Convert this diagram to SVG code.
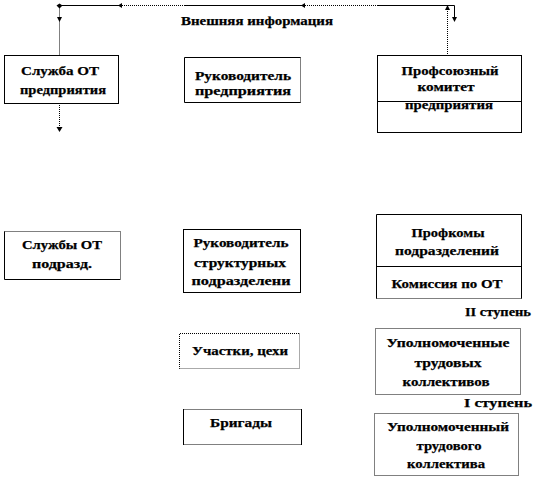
<svg xmlns="http://www.w3.org/2000/svg" width="553" height="478" viewBox="0 0 553 478">
<style>
text{font-family:"Liberation Serif","Times New Roman",serif;font-weight:bold;font-size:13px;fill:#000;text-anchor:middle;stroke:#000;stroke-width:0.25}
.s{fill:none;stroke:#000;stroke-width:1}
.d{fill:none;stroke:#000;stroke-width:1;stroke-dasharray:1 1}
.g{fill:none;stroke:#555;stroke-width:1;stroke-dasharray:1 1}
.a{fill:#000;stroke:none}
</style>
<rect width="553" height="478" fill="#fff"/>
<g id="connectors">
<path class="s" d="M59.5 5.5H120M185 5.5H303M377 5.5H454.5V20"/>
<path class="d" d="M120 5.5H185M303 5.5H377"/>
<path class="d" d="M59.5 5.5V55M59.5 103V128"/>
<path class="d" d="M447.5 9V55"/>
<path class="a" d="M56.5 5.5l3-2 3 2-3 3z"/>
<path class="a" d="M57 17h5l-2.5 5z"/>
<path class="a" d="M56.5 127h6l-3 5z"/>
<path class="a" d="M118 5.5l4-2.5v5z"/>
<path class="a" d="M301 5.5l4-2.5v5z"/>
<path class="a" d="M445 10h5l-2.5-5z"/>
<path class="a" d="M452 17h5l-2.5 5z"/>
</g>
<g id="label-vneshnyaya">
<text x="257" y="25" textLength="152" lengthAdjust="spacingAndGlyphs">Внешняя информация</text>
</g>
<g id="node-sluzhba-ot">
<rect class="s" x="4.5" y="55.5" width="114" height="48"/>
<text x="60" y="75" textLength="78" lengthAdjust="spacingAndGlyphs">Служба ОТ</text>
<text x="63" y="94" textLength="86" lengthAdjust="spacingAndGlyphs">предприятия</text>
</g>
<g id="node-rukovoditel">
<path class="s" d="M300.5 57.5H184.5V102.5H300.5"/>
<path class="d" d="M300.5 57.5V102.5"/>
<text x="243" y="80" textLength="96" lengthAdjust="spacingAndGlyphs">Руководитель</text>
<text x="243" y="95" textLength="96" lengthAdjust="spacingAndGlyphs">предприятия</text>
</g>
<g id="node-profkom">
<rect class="s" x="377.5" y="55.5" width="144" height="77"/>
<path class="s" d="M377.5 101.5H521.5"/>
<text x="450" y="75" textLength="97" lengthAdjust="spacingAndGlyphs">Профсоюзный</text>
<text x="446" y="91" textLength="57" lengthAdjust="spacingAndGlyphs">комитет</text>
<text x="449" y="109" textLength="88" lengthAdjust="spacingAndGlyphs">предприятия</text>
</g>
<g id="node-sluzhby-ot">
<path class="s" d="M4.5 231.5V279.5H120.5"/>
<path class="d" d="M4.5 231.5H120.5V279.5"/>
<text x="62" y="249" textLength="80" lengthAdjust="spacingAndGlyphs">Службы ОТ</text>
<text x="62" y="268" textLength="60" lengthAdjust="spacingAndGlyphs">подразд.</text>
</g>
<g id="node-rukovoditel-struct">
<rect class="s" x="183.5" y="229.5" width="117" height="63"/>
<text x="241" y="247" textLength="95" lengthAdjust="spacingAndGlyphs">Руководитель</text>
<text x="240" y="267" textLength="92" lengthAdjust="spacingAndGlyphs">структурных</text>
<text x="241" y="285" textLength="99" lengthAdjust="spacingAndGlyphs">подразделени</text>
</g>
<g id="node-profkomy">
<path class="s" d="M376.5 298.5V214.5H521.5V298.5"/>
<path class="d" d="M376.5 298.5H521.5"/>
<path class="s" d="M376.5 266.5H521.5"/>
<text x="448" y="237" textLength="73" lengthAdjust="spacingAndGlyphs">Профкомы</text>
<text x="447" y="255" textLength="104" lengthAdjust="spacingAndGlyphs">подразделений</text>
<text x="447" y="288" textLength="111" lengthAdjust="spacingAndGlyphs">Комиссия по ОТ</text>
</g>
<g id="label-ii">
<text x="498" y="316" textLength="66" lengthAdjust="spacingAndGlyphs">II ступень</text>
</g>
<g id="node-uchastki">
<path class="d" d="M179.5 369V333.5H299.5"/>
<path class="g" d="M299.5 333.5V368.5H179.5"/>
<text x="240" y="355" textLength="96" lengthAdjust="spacingAndGlyphs">Участки, цехи</text>
</g>
<g id="node-upoln-kollektivov">
<rect class="d" x="375.5" y="328.5" width="145" height="66"/>
<text x="448" y="347" textLength="123" lengthAdjust="spacingAndGlyphs">Уполномоченные</text>
<text x="448" y="367" textLength="67" lengthAdjust="spacingAndGlyphs">трудовых</text>
<text x="446" y="386" textLength="87" lengthAdjust="spacingAndGlyphs">коллективов</text>
</g>
<g id="label-i">
<text x="498" y="407" textLength="68" lengthAdjust="spacingAndGlyphs">I ступень</text>
</g>
<g id="node-brigady">
<path class="s" d="M183.5 409V445M301.5 409V445"/>
<path class="d" d="M183.5 409.5H301.5M183.5 444.5H301.5"/>
<text x="241" y="427" textLength="62" lengthAdjust="spacingAndGlyphs">Бригады</text>
</g>
<g id="node-upoln-kollektiva">
<rect class="d" x="374.5" y="413.5" width="144" height="62"/>
<text x="448" y="431" textLength="122" lengthAdjust="spacingAndGlyphs">Уполномоченный</text>
<text x="449" y="450" textLength="65" lengthAdjust="spacingAndGlyphs">трудового</text>
<text x="446" y="468" textLength="78" lengthAdjust="spacingAndGlyphs">коллектива</text>
</g>
</svg>
